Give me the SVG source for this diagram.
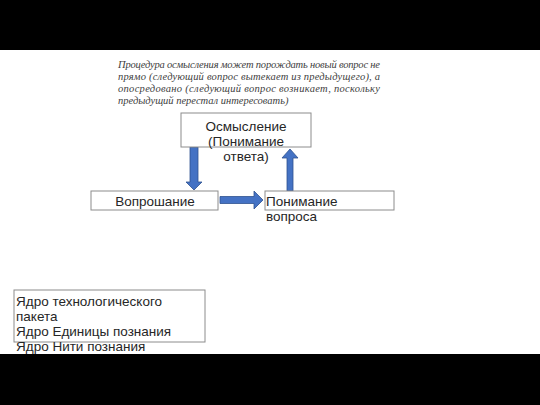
<svg xmlns="http://www.w3.org/2000/svg" width="540" height="405" viewBox="0 0 540 405">
<style>
.box{fill:#fff;stroke:#8c8c8c;stroke-width:1}
.t{font-family:"Liberation Sans",Arial,sans-serif;font-size:13.5px;fill:#262626}
.it{font-family:"Liberation Serif","Times New Roman",serif;font-style:italic;font-size:10.5px;fill:#404040}
.arr{fill:#4472c4;stroke:#2f528f;stroke-width:0.8}
</style>
<rect x="0" y="0" width="540" height="405" fill="#fff"/>
<rect x="0" y="0" width="540" height="50" fill="#000"/>
<g id="note">
<text class="it" x="118" y="68" textLength="262" lengthAdjust="spacing">Процедура осмысления может порождать новый вопрос не</text>
<text class="it" x="118" y="80" textLength="262" lengthAdjust="spacing">прямо (следующий вопрос вытекает из предыдущего), а</text>
<text class="it" x="118" y="92" textLength="262" lengthAdjust="spacing">опосредовано (следующий вопрос возникает, поскольку</text>
<text class="it" x="118" y="104">предыдущий перестал интересовать)</text>
</g>
<g id="connectors">
<path class="arr" d="M190,147 L198,147 L198,182 L202,182 L194,190 L186,182 L190,182 Z"/>
<path class="arr" d="M287,191 L293,191 L293,158 L298,158 L290,149 L282,158 L287,158 Z"/>
<path class="arr" d="M220,196.5 L254,196.5 L254,191 L263,200 L254,209 L254,203.5 L220,203.5 Z"/>
</g>
<g id="osmyslenie">
<rect class="box" x="181" y="113" width="130" height="34"/>
<text class="t" x="246" y="131" text-anchor="middle">Осмысление</text>
<text class="t" x="246" y="146" text-anchor="middle">(Понимание</text>
<text class="t" x="246" y="161" text-anchor="middle">ответа)</text>
</g>
<g id="voproshanie">
<rect class="box" x="91" y="191" width="127" height="19"/>
<text class="t" x="155" y="206" text-anchor="middle">Вопрошание</text>
</g>
<g id="ponimanie">
<rect class="box" x="265" y="191" width="129" height="19"/>
<text class="t" x="266" y="206">Понимание</text>
<text class="t" x="266" y="221">вопроса</text>
</g>
<g id="yadro">
<rect class="box" x="14" y="290" width="191" height="52"/>
<text class="t" x="16" y="306">Ядро технологического</text>
<text class="t" x="16" y="321">пакета</text>
<text class="t" x="16" y="336">Ядро Единицы познания</text>
<text class="t" x="16" y="351">Ядро Нити познания</text>
</g>
<rect x="0" y="354" width="540" height="51" fill="#000"/>
</svg>
